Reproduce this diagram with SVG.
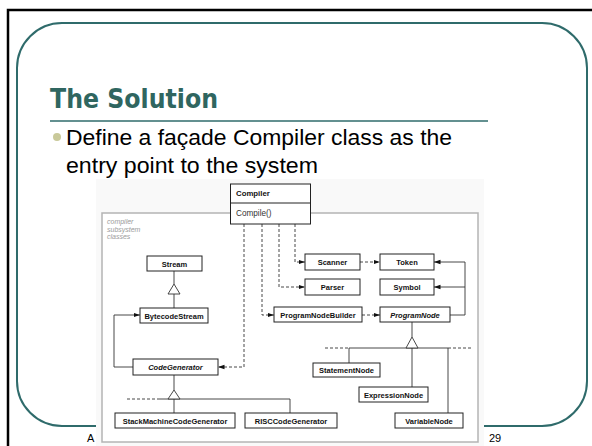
<svg xmlns="http://www.w3.org/2000/svg" width="592" height="446" viewBox="0 0 592 446">
<defs>
<style>
.box{fill:#fff;stroke:#222;stroke-width:1}
.lbl{font-family:"Liberation Sans",Arial,sans-serif;font-size:7.5px;font-weight:bold;fill:#111;text-anchor:middle}
.it{font-style:italic}
.dash{fill:none;stroke:#333;stroke-width:0.9;stroke-dasharray:3,2}
.sol{fill:none;stroke:#333;stroke-width:0.9}
.tri{fill:#fff;stroke:#333;stroke-width:0.9}
.body{font-family:"Liberation Sans",Arial,sans-serif;font-size:22px;fill:#000}
</style>
<marker id="ah" markerWidth="7" markerHeight="6" refX="6.5" refY="3" orient="auto" markerUnits="userSpaceOnUse">
<path d="M0,0.8 L6.5,3 L0,5.2 Z" fill="#111"/>
</marker>
</defs>
<rect x="0" y="0" width="592" height="446" fill="#fff"/>
<rect x="8" y="10" width="600" height="450" fill="none" stroke="#000" stroke-width="2.5"/>
<rect x="17" y="23" width="570" height="403" rx="45" ry="45" fill="none" stroke="#2f6b6b" stroke-width="2"/>
<text x="50" y="108" font-family="'DejaVu Sans',sans-serif" font-weight="900" font-size="27" fill="#2f6660" textLength="168" lengthAdjust="spacingAndGlyphs">The Solution</text>
<line x1="50" y1="121" x2="488" y2="121" stroke="#2f6b6b" stroke-width="1.5"/>
<circle cx="57" cy="137" r="4" fill="#c9c99a"/>
<text class="body" x="66" y="145" textLength="386" lengthAdjust="spacingAndGlyphs">Define a façade Compiler class as the</text>
<text class="body" x="66" y="173" textLength="252" lengthAdjust="spacingAndGlyphs">entry point to the system</text>
<text x="87" y="442" font-family="'Liberation Sans',Arial,sans-serif" font-size="11" fill="#000">A</text>
<text x="489" y="442" font-family="'Liberation Sans',Arial,sans-serif" font-size="11" fill="#000">29</text>
<rect x="96" y="179" width="388" height="267" fill="#f9f9f9"/>
<rect x="102" y="213" width="376" height="229" fill="#fff" stroke="#b4b4b4" stroke-width="1.5"/>
<g font-family="'Liberation Sans',Arial,sans-serif" font-size="7" font-style="italic" fill="#9a9a9a">
<text x="107" y="224">compiler</text>
<text x="107" y="231.5">subsystem</text>
<text x="107" y="239">classes</text>
</g>
<g id="connectors">
<path class="dash" d="M295,224 V262 H305" marker-end="url(#ah)"/>
<path class="dash" d="M279,224 V287 H305" marker-end="url(#ah)"/>
<path class="dash" d="M262,224 V315 H274" marker-end="url(#ah)"/>
<path class="dash" d="M244,224 V367 H218" marker-end="url(#ah)"/>
<path class="dash" d="M360,262 H380" marker-end="url(#ah)"/>
<path class="dash" d="M362,315 H380" marker-end="url(#ah)"/>
<path class="sol" d="M450,315 H465 V262 H434" marker-end="url(#ah)"/>
<path class="sol" d="M465,287 H434" marker-end="url(#ah)"/>
<path class="sol" d="M133,367 H114 V315 H140" marker-end="url(#ah)"/>
<path class="sol" d="M174,271 V284 M174,294 V308"/>
<path class="tri" d="M174,284 L168,294 L180,294 Z"/>
<path class="sol" d="M174,375 V390 M158,399 H290 M174,399 V413 M290,399 V413"/>
<path class="dash" d="M127,399 H158"/>
<path class="tri" d="M174,390 L168,399 L180,399 Z"/>
<path class="sol" d="M412,322 V337 M349,348 H448 M349,348 V363 M412,348 V387 M448,348 V413"/>
<path class="dash" d="M325,348 H349 M448,348 H472"/>
<path class="tri" d="M412,337 L406,348 L418,348 Z"/>
</g>
<g id="compiler">
<rect class="box" x="230.5" y="184" width="80" height="40"/>
<line x1="230.5" y1="203" x2="310.5" y2="203" stroke="#222" stroke-width="1"/>
<text x="236" y="196" font-family="'Liberation Sans',Arial,sans-serif" font-size="7.8" font-weight="bold" fill="#111">Compiler</text>
<text x="236" y="216" font-family="'Liberation Sans',Arial,sans-serif" font-size="8.2" fill="#333">Compile()</text>
</g>
<g id="scanner"><rect class="box" x="305" y="254" width="55" height="16"/><text class="lbl" x="332.5" y="265">Scanner</text></g>
<g id="token"><rect class="box" x="380" y="254" width="54" height="16"/><text class="lbl" x="407" y="265">Token</text></g>
<g id="parser"><rect class="box" x="305" y="279" width="55" height="16"/><text class="lbl" x="332.5" y="290">Parser</text></g>
<g id="symbol"><rect class="box" x="380" y="279" width="54" height="16"/><text class="lbl" x="407" y="290">Symbol</text></g>
<g id="programnodebuilder"><rect class="box" x="274" y="307" width="88" height="15"/><text class="lbl" x="318" y="317.5">ProgramNodeBuilder</text></g>
<g id="programnode"><rect class="box" x="380" y="307" width="70" height="15"/><text class="lbl it" x="415" y="317.5">ProgramNode</text></g>
<g id="stream"><rect class="box" x="147" y="256" width="55" height="15"/><text class="lbl" x="174.5" y="266.5">Stream</text></g>
<g id="bytecodestream"><rect class="box" x="140" y="308" width="68" height="15"/><text class="lbl" x="174" y="318.5">BytecodeStream</text></g>
<g id="codegenerator"><rect class="box" x="133" y="359" width="85" height="16"/><text class="lbl it" x="175.5" y="370">CodeGenerator</text></g>
<g id="stackmachinecodegenerator"><rect class="box" x="115" y="413" width="120" height="15"/><text class="lbl" x="175" y="423.5">StackMachineCodeGenerator</text></g>
<g id="risccodegenerator"><rect class="box" x="245" y="413" width="92" height="15"/><text class="lbl" x="291" y="423.5">RISCCodeGenerator</text></g>
<g id="statementnode"><rect class="box" x="313" y="363" width="67" height="14"/><text class="lbl" x="346.5" y="373">StatementNode</text></g>
<g id="expressionnode"><rect class="box" x="359" y="387" width="69" height="15"/><text class="lbl" x="393.5" y="397.5">ExpressionNode</text></g>
<g id="variablenode"><rect class="box" x="395" y="413" width="68" height="15"/><text class="lbl" x="429" y="423.5">VariableNode</text></g>
</svg>
